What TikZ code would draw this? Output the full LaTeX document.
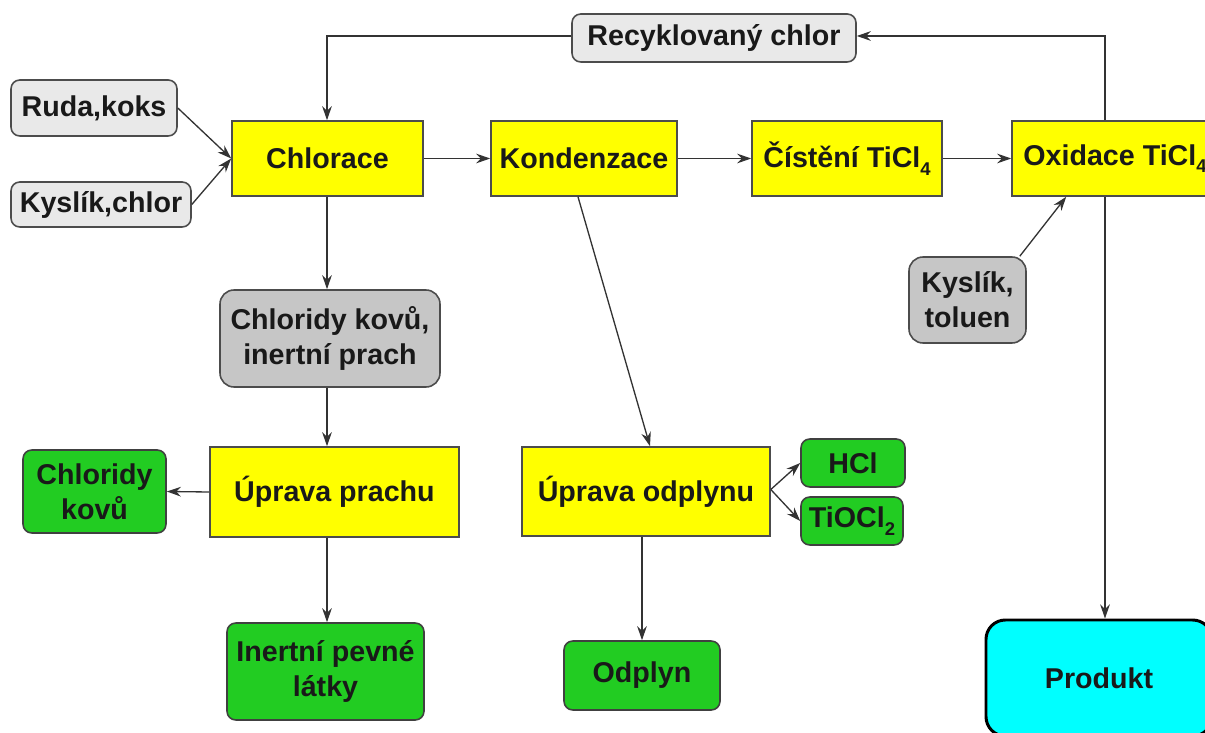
\documentclass[tikz,border=0pt]{standalone}
\usepackage{fontspec}
\setmainfont{Liberation Sans}
\usetikzlibrary{arrows.meta,calc}
\definecolor{ylw}{HTML}{FFFF00}
\definecolor{grn}{HTML}{22CC22}
\definecolor{lgr}{HTML}{E9E9E9}
\definecolor{dgr}{HTML}{C6C6C6}
\definecolor{cyn}{HTML}{00FFFF}
\definecolor{lin}{HTML}{333333}
\newcommand{\sbs}[1]{\raisebox{-0.5ex}{\fontsize{10.5}{10.5}\selectfont #1}}
\tikzset{
  sz/.style 2 args={minimum width=#1*0.02cm, minimum height=#2*0.02cm},
  base/.style={inner sep=0pt, align=center, font=\fontsize{16.3}{20}\selectfont\bfseries, text=black!90},
  ybox/.style={base, draw=black!70, line width=0.9pt, fill=ylw},
  gbox/.style={base, draw=black!75, line width=0.9pt, fill=grn, rounded corners=5pt},
  lbox/.style={base, draw=black!70, line width=0.9pt, fill=lgr, rounded corners=5pt},
  dbox/.style={base, draw=black!70, line width=0.9pt, fill=dgr, rounded corners=8pt},
  pbox/.style={base, draw=black, line width=1.7pt, fill=cyn, rounded corners=11pt},
  arr/.style={draw=lin, line width=0.75pt, -{Stealth[length=8pt,width=5.5pt]}},
  ln/.style={draw=lin, line width=0.75pt}
}
\begin{document}
\begin{tikzpicture}[x=0.02cm,y=-0.02cm]
\useasboundingbox[fill=white] (0,0) rectangle (1205,733);
\node[lbox, sz={284}{48}] (rec) at (714,38) {Recyklovaný chlor};
\node[lbox, sz={166}{56}] (ruda) at (94,108) {Ruda,koks};
\node[lbox, sz={180}{45}] (kys) at (101,204.5) {Kyslík,chlor};
\node[ybox, sz={191}{75}] (chl) at (327.5,158.5) {Chlorace};
\node[ybox, sz={186}{75}] (kon) at (584,158.5) {Kondenzace};
\node[ybox, sz={190}{75}] (cis) at (847,158.5) {Čístění TiCl\sbs{4}};
\node[ybox, sz={206}{75}] (oxi) at (1115,158.5) {Oxidace TiCl\sbs{4}};
\node[dbox, sz={220}{97}] (cik) at (330,338.5) {Chloridy kovů,\\inertní prach};
\node[ybox, sz={249}{90}] (upp) at (334.5,492) {Úprava prachu};
\node[gbox, sz={143}{83}] (ckv) at (94.5,491.5) {Chloridy\\kovů};
\node[gbox, sz={197}{97}] (ipl) at (325.5,671.5) {Inertní pevné\\látky};
\node[ybox, sz={248}{89}] (upo) at (646,491.5) {Úprava odplynu};
\node[gbox, sz={156}{69}] (odp) at (642,675.5) {Odplyn};
\node[gbox, sz={104}{48}] (hcl) at (853,463) {HCl};
\node[gbox, sz={102}{48}] (tio) at (852,521) {TiOCl\sbs{2}};
\node[dbox, sz={117}{86}] (kto) at (967.5,300) {Kyslík,\\toluen};
\node[pbox, sz={226}{116}] (prod) at (1099,678) {Produkt};
\coordinate (vx) at (1105,0);
\coordinate (cx) at (327,0);
\coordinate (top) at (0,36);
% main line
\draw[arr] (ruda.east) -- (chl.west);
\draw[arr] (kys.east) -- (chl.west);
\draw[arr] (chl.east) -- (kon.west);
\draw[arr] (kon.east) -- (cis.west);
\draw[arr] (cis.east) -- (oxi.west);
% recycle loop
\draw[arr] (oxi.north -| vx) -- (top -| vx) -- (rec.east |- top);
\draw[arr] (rec.west |- top) -- (top -| cx) -- (chl.north -| cx);
% chlorace branch
\draw[arr] (chl.south -| cx) -- (cik.north -| cx);
\draw[arr] (cik.south -| cx) -- (upp.north -| cx);
\draw[arr] (upp.west) -- (ckv.east);
\draw[arr] (upp.south -| cx) -- (ipl.north -| cx);
% kondenzace branch
\draw[arr] ($(kon.south)+(-6,0)$) -- ($(upo.north)+(4,0)$);
\draw[arr] ($(upo.east)+(0,-2)$) -- (hcl.west);
\draw[arr] ($(upo.east)+(0,-2)$) -- (tio.west);
\draw[arr] (upo.south -| odp.north) -- (odp.north);
% oxidation
\draw[arr] ($(kto.north east)+(-7,0)$) -- ($(oxi.south west)+(55,0)$);
\draw[arr] (oxi.south -| vx) -- (prod.north -| vx);
\end{tikzpicture}
\end{document}
